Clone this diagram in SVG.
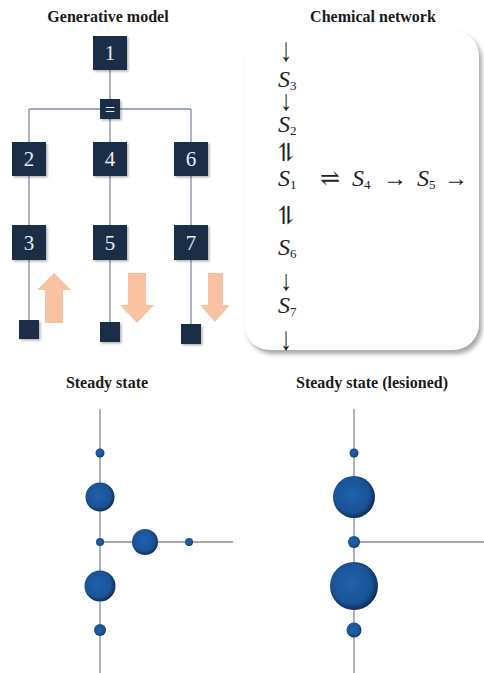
<svg xmlns="http://www.w3.org/2000/svg" width="484" height="673" viewBox="0 0 484 673">
<defs>
<filter id="sh" x="-20%" y="-20%" width="150%" height="150%">
<feDropShadow dx="1.5" dy="1.5" stdDeviation="1" flood-color="#000" flood-opacity="0.3"/>
</filter>
<filter id="boxsh" x="-10%" y="-10%" width="120%" height="120%">
<feGaussianBlur stdDeviation="2"/>
</filter>
<radialGradient id="ball" cx="45%" cy="45%" r="55%">
<stop offset="0" stop-color="#1f62ac"/>
<stop offset="0.75" stop-color="#1a5397"/>
<stop offset="1" stop-color="#0e2f5e"/>
</radialGradient>
<style>
.title{font-family:"Liberation Serif",serif;font-weight:bold;font-size:16px;fill:#1a1a1a;text-anchor:middle}
.node rect{fill:#1e2f47;filter:url(#sh)}
.node text{font-family:"Liberation Serif",serif;font-size:21px;fill:#e6ecf3;text-anchor:middle}
.ln{stroke:#7f8ea6;stroke-width:1.3;fill:none}
.ax{stroke:#8a8a8a;stroke-width:1.3;fill:none}
.arr{fill:#f8c3a2}
.chem{font-family:"Liberation Serif","DejaVu Serif",serif;font-size:24px;fill:#222}
.sym{font-family:"Liberation Serif","DejaVu Serif",serif;font-size:24px;fill:#222;text-anchor:middle}
.harp{font-family:"DejaVu Serif","DejaVu Sans",serif;font-size:25px;fill:#222;text-anchor:middle}
.sub{font-size:13px;font-style:normal}
.ball{fill:url(#ball)}
</style>
</defs>
<rect width="484" height="673" fill="#fff"/>

<!-- titles -->
<text class="title" x="108" y="22">Generative model</text>
<text class="title" x="373" y="22">Chemical network</text>
<text class="title" x="107" y="388">Steady state</text>
<text class="title" x="372" y="388">Steady state (lesioned)</text>

<!-- chemical network box -->
<rect x="247" y="34" width="235" height="320" rx="26" fill="#a8a8a8" filter="url(#boxsh)"/>
<rect x="244" y="30" width="235" height="320" rx="26" fill="#fff"/>

<!-- connectors -->
<g id="connectors">
<path class="ln" d="M110 70V99M110 119V142M29 109H100M120 109H191M29 109V142M191 109V142M29 176V225M110 176V225M191 176V225M29 260V320M110 260V322M191 260V324"/>
</g>

<!-- nodes -->
<g id="n1" class="node"><rect x="93" y="36" width="34" height="34"/><text x="110" y="60">1</text></g>
<g id="neq" class="node"><rect x="100" y="99" width="20" height="20"/><text x="110" y="116" style="font-size:18px">=</text></g>
<g id="n2" class="node"><rect x="12" y="142" width="34" height="34"/><text x="29" y="166">2</text></g>
<g id="n4" class="node"><rect x="93" y="142" width="34" height="34"/><text x="110" y="166">4</text></g>
<g id="n6" class="node"><rect x="174" y="142" width="34" height="34"/><text x="191" y="166">6</text></g>
<g id="n3" class="node"><rect x="12" y="225" width="34" height="35"/><text x="29" y="250">3</text></g>
<g id="n5" class="node"><rect x="93" y="225" width="34" height="35"/><text x="110" y="250">5</text></g>
<g id="n7" class="node"><rect x="174" y="225" width="34" height="35"/><text x="191" y="250">7</text></g>
<g id="s1" class="node"><rect x="19" y="320" width="20" height="19"/></g>
<g id="s2" class="node"><rect x="100" y="322" width="20" height="20"/></g>
<g id="s3" class="node"><rect x="181" y="324" width="20" height="20"/></g>

<!-- orange arrows -->
<path class="arr" d="M54 273L71 290H63V323H45V290H37Z"/>
<path class="arr" d="M128 273H146V305H154L137 323L120 305H128Z"/>
<path class="arr" d="M208 273H223V305H230L215 322L200 305H208Z"/>

<!-- chemical network text -->
<g id="chem">
<text class="sym" transform="translate(286 61) scale(1 1.4)">↓</text>
<text class="chem" x="278" y="87"><tspan font-style="italic">S</tspan><tspan class="sub" dy="3">3</tspan></text>
<text class="sym" transform="translate(286 110) scale(1 1.2)">↓</text>
<text class="chem" x="278" y="132"><tspan font-style="italic">S</tspan><tspan class="sub" dy="3">2</tspan></text>
<text class="harp" x="286" y="161">⥮</text>
<text class="chem" x="278" y="186"><tspan font-style="italic">S</tspan><tspan class="sub" dy="3">1</tspan></text>
<text class="sym" x="330" y="186">⇌</text>
<text class="chem" x="352" y="186"><tspan font-style="italic">S</tspan><tspan class="sub" dy="3">4</tspan></text>
<text class="sym" x="395" y="186">→</text>
<text class="chem" x="417" y="186"><tspan font-style="italic">S</tspan><tspan class="sub" dy="3">5</tspan></text>
<text class="sym" x="456" y="186">→</text>
<text class="harp" x="286" y="224">⥮</text>
<text class="chem" x="278" y="255"><tspan font-style="italic">S</tspan><tspan class="sub" dy="3">6</tspan></text>
<text class="sym" transform="translate(286 290) scale(1 1.2)">↓</text>
<text class="chem" x="278" y="313"><tspan font-style="italic">S</tspan><tspan class="sub" dy="3">7</tspan></text>
<text class="sym" transform="translate(286 350) scale(1 1.4)">↓</text>
</g>

<!-- steady state plot -->
<g id="plot1">
<path class="ax" d="M100 409V673M100 542H233"/>
<circle class="ball" cx="100" cy="453" r="4.5"/>
<circle class="ball" cx="100" cy="497" r="14.5"/>
<circle class="ball" cx="100" cy="542" r="4"/>
<circle class="ball" cx="145" cy="542" r="13"/>
<circle class="ball" cx="189" cy="542" r="4"/>
<circle class="ball" cx="100" cy="586" r="15.5"/>
<circle class="ball" cx="100" cy="630" r="6"/>
</g>

<!-- lesioned plot -->
<g id="plot2">
<path class="ax" d="M354 409V673M354 542H484"/>
<circle class="ball" cx="354" cy="453" r="4.5"/>
<circle class="ball" cx="354" cy="497" r="21"/>
<circle class="ball" cx="354" cy="542" r="6"/>
<circle class="ball" cx="354" cy="586" r="24"/>
<circle class="ball" cx="354" cy="630" r="7.5"/>
</g>
</svg>
